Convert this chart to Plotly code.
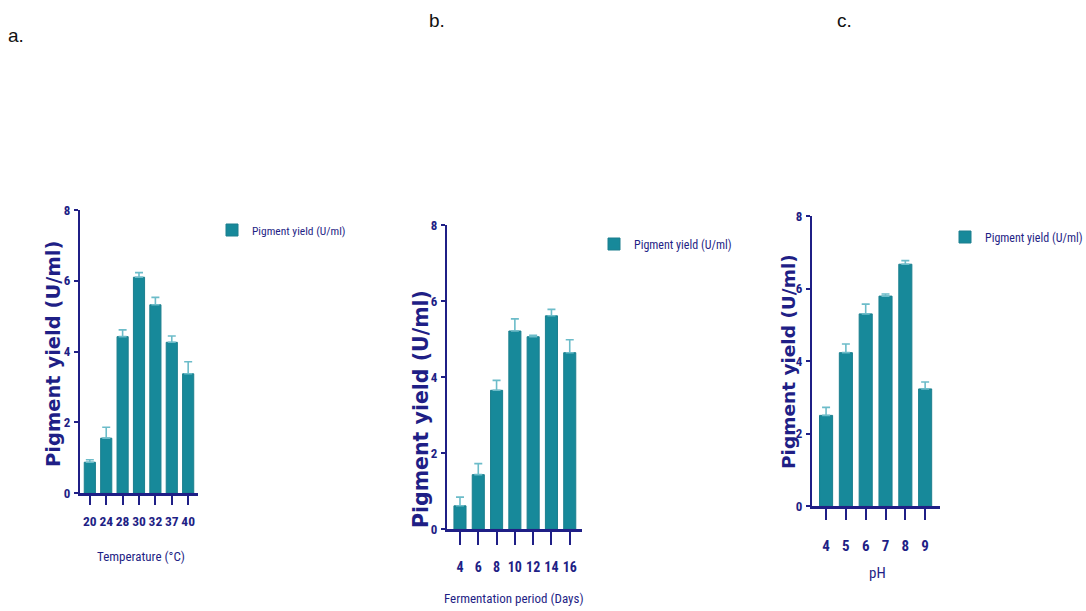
import plotly.graph_objects as go

# Pigment yield (U/ml) under three culture conditions, mean with upper SD
temp_labels = ["20", "24", "28", "30", "32", "37", "40"]
temp_yield = [0.87, 1.55, 4.42, 6.10, 5.32, 4.26, 3.37]
temp_sd = [0.07, 0.31, 0.19, 0.13, 0.21, 0.18, 0.34]

days_labels = ["4", "6", "8", "10", "12", "14", "16"]
days_yield = [0.61, 1.43, 3.65, 5.21, 5.06, 5.61, 4.64]
days_sd = [0.23, 0.29, 0.26, 0.32, 0.04, 0.17, 0.34]

ph_labels = ["4", "5", "6", "7", "8", "9"]
ph_yield = [2.50, 4.23, 5.30, 5.79, 6.67, 3.23]
ph_sd = [0.22, 0.24, 0.27, 0.06, 0.10, 0.19]

W, H = 1086, 611
NAVY = "#1f1f86"
BAR = "#17899a"
BAR_EDGE = "#1c7f8e"
ERR = "#6cbcc9"
NARROW = "Roboto Condensed, Liberation Sans Narrow, Arial Narrow, sans-serif"
BOLD = "DejaVu Sans, Verdana, sans-serif"


def px_x(v):
    return v / W


def px_y(v):
    return 1 - v / H


panels = [
    dict(labels=temp_labels, vals=temp_yield, sd=temp_sd, xd=(80, 198), yd=(493, 210),
         xr=[-0.6, 6.6], bw=0.68, leg="legend", leg_x=212, leg_y=230, leg_size=11.5,
         tick_size=13.5, title="Temperature (°C)", title_xy=(141, 556), title_size=13,
         ytitle_xy=(53, 354), ytitle_size=19.5, standoff=5, ticklen=9),
    dict(labels=days_labels, vals=days_yield, sd=days_sd, xd=(447, 582), yd=(529, 225),
         xr=[-0.71, 6.67], bw=0.66, leg="legend2", leg_x=594, leg_y=244, leg_size=12,
         tick_size=14, title="Fermentation period (Days)", title_xy=(514, 598), title_size=13,
         ytitle_xy=(421, 409), ytitle_size=20.5, standoff=10, ticklen=13),
    dict(labels=ph_labels, vals=ph_yield, sd=ph_sd, xd=(812, 940), yd=(506, 216),
         xr=[-0.71, 5.75], bw=0.66, leg="legend3", leg_x=945, leg_y=237, leg_size=12,
         tick_size=15, title="pH", title_xy=(877, 573), title_size=15,
         ytitle_xy=(788, 362), ytitle_size=18.5, standoff=13, ticklen=11),
]

fig = go.Figure()
annotations = []
layout = {}

for i, p in enumerate(panels, start=1):
    sx = "" if i == 1 else str(i)
    fig.add_trace(go.Bar(
        x=p["labels"], y=p["vals"], width=p["bw"],
        xaxis="x" + sx, yaxis="y" + sx,
        name="Pigment yield (U/ml)", legend=p["leg"],
        marker=dict(color=BAR, line=dict(color=BAR_EDGE, width=1)),
        error_y=dict(type="data", symmetric=False, array=p["sd"],
                     arrayminus=[0] * len(p["sd"]),
                     color=ERR, thickness=1.6, width=4),
    ))
    layout["xaxis" + sx] = dict(
        domain=[px_x(p["xd"][0]), px_x(p["xd"][1])], anchor="y" + sx,
        type="category", range=p["xr"], showline=True, linecolor=NAVY, linewidth=3,
        tickmode="array", tickvals=p["labels"], ticktext=p["labels"], tickangle=0,
        ticks="outside", ticklen=p["ticklen"], tickwidth=1.5, tickcolor=NAVY,
        ticklabelstandoff=p["standoff"], automargin=False,
        tickfont=dict(family=NARROW, size=p["tick_size"], color=NAVY, weight="bold"),
        showgrid=False, zeroline=False, fixedrange=True,
    )
    layout["yaxis" + sx] = dict(
        domain=[px_y(p["yd"][0]), px_y(p["yd"][1])], anchor="x" + sx,
        range=[0, 8], tickmode="array", tickvals=[0, 2, 4, 6, 8],
        showline=True, linecolor=NAVY, linewidth=2,
        ticks="outside", ticklen=4, tickwidth=1.5, tickcolor=NAVY, automargin=False,
        ticklabelstandoff=1,
        tickfont=dict(family=NARROW, size=13, color=NAVY, weight="bold"),
        showgrid=False, zeroline=False, fixedrange=True,
    )
    layout[p["leg"]] = dict(
        x=px_x(p["leg_x"]), y=px_y(p["leg_y"]),
        xanchor="left", yanchor="middle", bgcolor="rgba(0,0,0,0)",
        font=dict(family=NARROW, size=p["leg_size"], color=NAVY),
        itemwidth=30,
    )
    annotations.append(dict(
        text=p["title"], x=px_x(p["title_xy"][0]), y=px_y(p["title_xy"][1]),
        xref="paper", yref="paper", showarrow=False, xanchor="center", yanchor="middle",
        font=dict(family=NARROW, size=p["title_size"], color=NAVY),
    ))
    annotations.append(dict(
        text="Pigment yield (U/ml)", x=px_x(p["ytitle_xy"][0]), y=px_y(p["ytitle_xy"][1]),
        xref="paper", yref="paper", showarrow=False, xanchor="center", yanchor="middle",
        textangle=-90,
        font=dict(family=BOLD, size=p["ytitle_size"], color=NAVY, weight="bold"),
    ))

for label, (lx, ly) in zip(["a.", "b.", "c."], [(16, 36), (437, 20), (844, 20)]):
    annotations.append(dict(
        text=label, x=px_x(lx), y=px_y(ly), xref="paper", yref="paper",
        showarrow=False, xanchor="center", yanchor="middle",
        font=dict(family="Liberation Sans, Arial, sans-serif", size=19, color="#111111"),
    ))

fig.update_layout(
    width=W, height=H, margin=dict(l=0, r=0, t=0, b=0, autoexpand=False),
    paper_bgcolor="white", plot_bgcolor="white",
    showlegend=True, bargap=0.3, annotations=annotations, **layout,
)

fig.write_html("out.html", config={"displayModeBar": False})
